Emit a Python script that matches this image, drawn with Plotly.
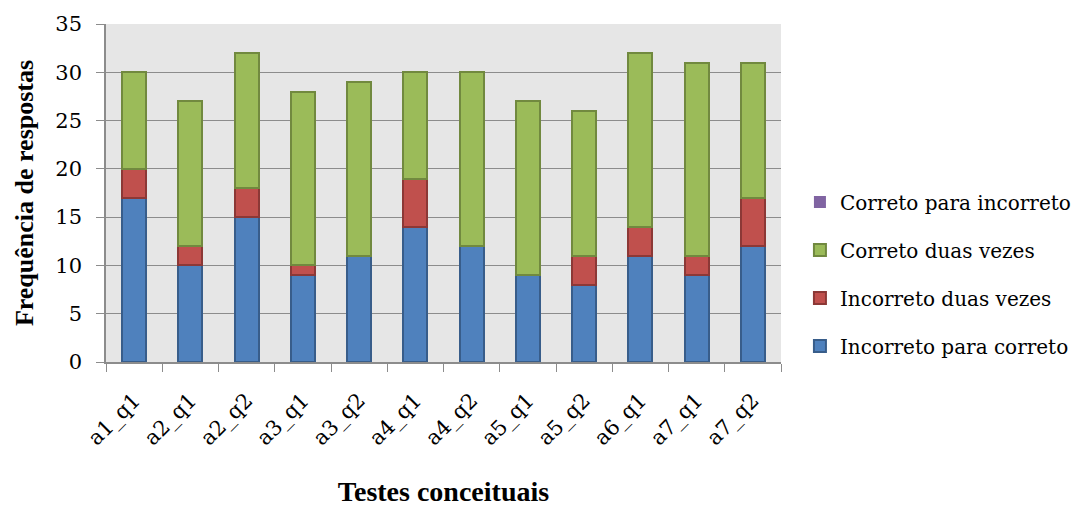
import plotly.graph_objects as go

categories = ["a1_q1", "a2_q1", "a2_q2", "a3_q1", "a3_q2", "a4_q1",
              "a4_q2", "a5_q1", "a5_q2", "a6_q1", "a7_q1", "a7_q2"]
incorreto_para_correto = [17, 10, 15, 9, 11, 14, 12, 9, 8, 11, 9, 12]
incorreto_duas_vezes = [3, 2, 3, 1, 0, 5, 0, 0, 3, 3, 2, 5]
correto_duas_vezes = [10, 15, 14, 18, 18, 11, 18, 18, 15, 18, 20, 14]
correto_para_incorreto = [0, 0, 0, 0, 0, 0, 0, 0, 0, 0, 0, 0]

series = [
    ("Incorreto para correto", incorreto_para_correto, "#4F81BD", "#385D8A", 2),
    ("Incorreto duas vezes", incorreto_duas_vezes, "#C0504D", "#8C3836", 2),
    ("Correto duas vezes", correto_duas_vezes, "#9BBB59", "#71893F", 2),
    ("Correto para incorreto", correto_para_incorreto, "#8064A2", "#5C4776", 0),
]

fig = go.Figure()
for i, (name, vals, fill, line, lw) in enumerate(series):
    fig.add_trace(go.Bar(
        x=categories, y=vals, name=name,
        marker=dict(color=fill, line=dict(color=line, width=lw)),
        legendgroup=f"g{i}",
        legendrank=len(series) - i,
    ))

serif = "Liberation Serif"
reg = "DejaVu Serif"
fig.update_layout(
    barmode="stack",
    bargap=0.573,
    width=1076, height=499,
    margin=dict(l=98, r=303, t=16, b=145, autoexpand=False),
    paper_bgcolor="white",
    plot_bgcolor="#E6E6E6",
    font=dict(family=reg, size=21, color="black"),
    legend=dict(
        xref="container", yref="container",
        x=0.736, xanchor="left", y=0.467, yanchor="middle",
        traceorder="grouped",
        tracegroupgap=19,
        font=dict(family=reg, size=20),
        itemwidth=30,
        bgcolor="rgba(0,0,0,0)",
    ),
    xaxis=dict(
        title=dict(text="<b>Testes conceituais</b>", font=dict(family=serif, size=28), standoff=37),
        tickangle=-45,
        tickfont=dict(family=reg, size=21),
        ticklabelstandoff=16,
        showline=True, linecolor="#8C8C8C", linewidth=1.5,
        ticks="outside", tickson="boundaries", ticklen=8, tickcolor="#8C8C8C",
        showgrid=False,
    ),
    yaxis=dict(
        title=dict(text="<b>Frequência de respostas</b>", font=dict(family=serif, size=26), standoff=14),
        range=[0, 35], dtick=5,
        tickfont=dict(family=reg, size=21),
        ticklabelstandoff=10,
        showline=True, linecolor="#8C8C8C", linewidth=1.5,
        ticks="outside", ticklen=8, tickcolor="#8C8C8C",
        showgrid=True, gridcolor="#8C8C8C", gridwidth=1.2,
        zeroline=False,
    ),
)

fig.write_html("out.html")
